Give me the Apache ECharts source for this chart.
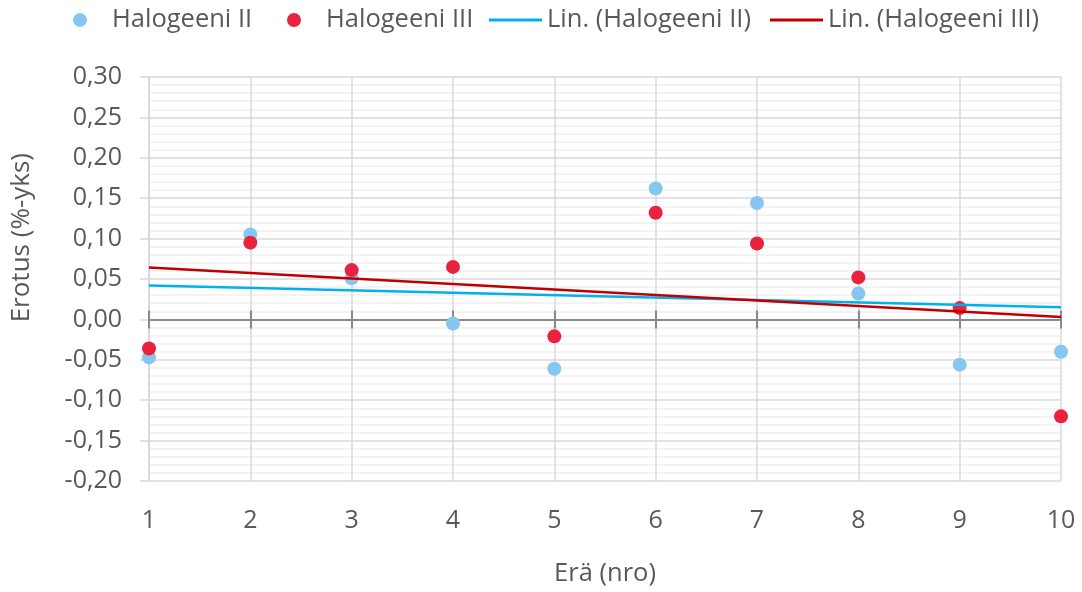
<!DOCTYPE html>
<html>
<head>
<meta charset="utf-8">
<script src="https://cdn.jsdelivr.net/npm/echarts@6/dist/echarts.min.js"></script>
<style>
  html, body { margin: 0; padding: 0; background: #ffffff; }
  #chart { width: 1082px; height: 592px; }
</style>
</head>
<body>
<div id="chart"></div>
<script>
// Batch numbers (Erä) and measured differences (%-yks) per halogen channel
const batches = [1, 2, 3, 4, 5, 6, 7, 8, 9, 10];
const halogeeniII = [-0.047, 0.105, 0.051, -0.005, -0.061, 0.162, 0.144, 0.032, -0.056, -0.040];
const halogeeniIII = [-0.036, 0.095, 0.061, 0.065, -0.021, 0.132, 0.094, 0.052, 0.014, -0.120];
const seriesNames = ['Halogeeni II', 'Halogeeni III', 'Lin. (Halogeeni II)', 'Lin. (Halogeeni III)'];
const xTitle = 'Erä (nro)';
const yTitle = 'Erotus (%-yks)';

const FONT = '"Open Sans", "Noto Sans", sans-serif';
const TEXT = '#595959';
const LABEL_SIZE = 25;
const LEGEND_SIZE = 25.5;

function pairs(xs, ys) {
  return xs.map((x, i) => [x, ys[i]]);
}

// Least-squares trend line, evaluated at the first and last batch
function linearTrend(xs, ys) {
  const n = xs.length;
  const mx = xs.reduce((a, b) => a + b, 0) / n;
  const my = ys.reduce((a, b) => a + b, 0) / n;
  let sxy = 0, sxx = 0;
  for (let i = 0; i < n; i++) {
    sxy += (xs[i] - mx) * (ys[i] - my);
    sxx += (xs[i] - mx) * (xs[i] - mx);
  }
  const slope = sxy / sxx;
  const icpt = my - slope * mx;
  const x0 = xs[0], x1 = xs[n - 1];
  return [[x0, icpt + slope * x0], [x1, icpt + slope * x1]];
}

function fmt(v) {
  if (Math.abs(v) < 1e-9) v = 0;
  return v.toFixed(2).replace('.', ',');
}

// One legend block per entry so each sits at its own left offset
const LINE_ICON = 'path://M0,0H53V3H0Z';
function legendEntry(name, left, icon, width, padLeft) {
  return {
    left: left, top: 7, padding: 0,
    itemWidth: width, itemHeight: 14,
    textStyle: { fontFamily: FONT, fontSize: LEGEND_SIZE, color: TEXT, padding: [0, 0, 0, padLeft] },
    data: [{ name: name, icon: icon }]
  };
}

const xCommon = { type: 'value', min: 1, max: 10, interval: 1 };

const chart = echarts.init(document.getElementById('chart'), null, { renderer: 'canvas' });
chart.setOption({
  animation: false,
  backgroundColor: '#ffffff',
  textStyle: { fontFamily: FONT, color: TEXT },
  grid: { left: 149, right: 21, top: 77, bottom: 108, containLabel: false },
  legend: [
    legendEntry(seriesNames[0], 73, 'circle', 14, 20),
    legendEntry(seriesNames[1], 287, 'circle', 14, 20),
    legendEntry(seriesNames[2], 489, LINE_ICON, 53, 0),
    legendEntry(seriesNames[3], 770, LINE_ICON, 53, 0)
  ],
  xAxis: [
    Object.assign({}, xCommon, {
      position: 'bottom',
      name: xTitle, nameLocation: 'middle', nameGap: 80,
      nameTextStyle: { fontFamily: FONT, fontSize: LEGEND_SIZE, color: TEXT },
      axisLine: { show: false, onZero: false },
      axisTick: { show: false },
      axisLabel: { margin: 27, fontSize: LABEL_SIZE, color: TEXT, fontFamily: FONT },
      splitLine: { show: true, lineStyle: { color: '#D9D9D9', width: 1.5 } }
    }),
    Object.assign({}, xCommon, {
      position: 'bottom',
      axisLine: { show: true, onZero: true, onZeroAxisIndex: 0, lineStyle: { color: '#898989', width: 2 } },
      axisTick: { show: true, inside: true, length: 9, lineStyle: { color: '#898989', width: 2 } },
      axisLabel: { show: false },
      splitLine: { show: false }
    }),
    Object.assign({}, xCommon, {
      position: 'bottom',
      axisLine: { show: true, onZero: true, onZeroAxisIndex: 0, lineStyle: { color: '#898989', width: 2 } },
      axisTick: { show: true, inside: false, length: 9, lineStyle: { color: '#898989', width: 2 } },
      axisLabel: { show: false },
      splitLine: { show: false }
    })
  ],
  yAxis: {
    type: 'value', min: -0.2, max: 0.3, interval: 0.05,
    axisLine: { show: true, onZero: false, lineStyle: { color: '#D9D9D9', width: 2 } },
    axisTick: { show: true, inside: false, length: 9, lineStyle: { color: '#D9D9D9', width: 1.5 } },
    axisLabel: { margin: 27, fontSize: LABEL_SIZE, color: TEXT, fontFamily: FONT, formatter: fmt },
    splitLine: { show: true, lineStyle: { color: '#D9D9D9', width: 1.5 } },
    minorTick: { show: false, splitNumber: 5 },
    minorSplitLine: { show: true, lineStyle: { color: '#EFEFEF', width: 1.5 } }
  },
  graphic: [{
    type: 'text',
    left: 9, top: 153,
    rotation: Math.PI / 2,
    originX: 0, originY: 0,
    style: { text: yTitle, fontFamily: FONT, fontSize: 26, fill: TEXT }
  }],
  series: [
    {
      name: seriesNames[0], type: 'scatter', xAxisIndex: 0,
      symbol: 'circle', symbolSize: 14,
      itemStyle: { color: '#85C7F0', opacity: 1 },
      data: pairs(batches, halogeeniII), z: 3
    },
    {
      name: seriesNames[1], type: 'scatter', xAxisIndex: 0,
      symbol: 'circle', symbolSize: 14,
      itemStyle: { color: '#E8223F', opacity: 1 },
      data: pairs(batches, halogeeniIII), z: 3
    },
    {
      name: seriesNames[2], type: 'line', xAxisIndex: 0,
      symbol: 'none', showSymbol: false,
      lineStyle: { color: '#00B0F0', width: 2.5 },
      itemStyle: { color: '#00B0F0' },
      data: linearTrend(batches, halogeeniII), z: 4
    },
    {
      name: seriesNames[3], type: 'line', xAxisIndex: 0,
      symbol: 'none', showSymbol: false,
      lineStyle: { color: '#C00000', width: 2.5 },
      itemStyle: { color: '#C00000' },
      data: linearTrend(batches, halogeeniIII), z: 4
    }
  ]
});
</script>
</body>
</html>
